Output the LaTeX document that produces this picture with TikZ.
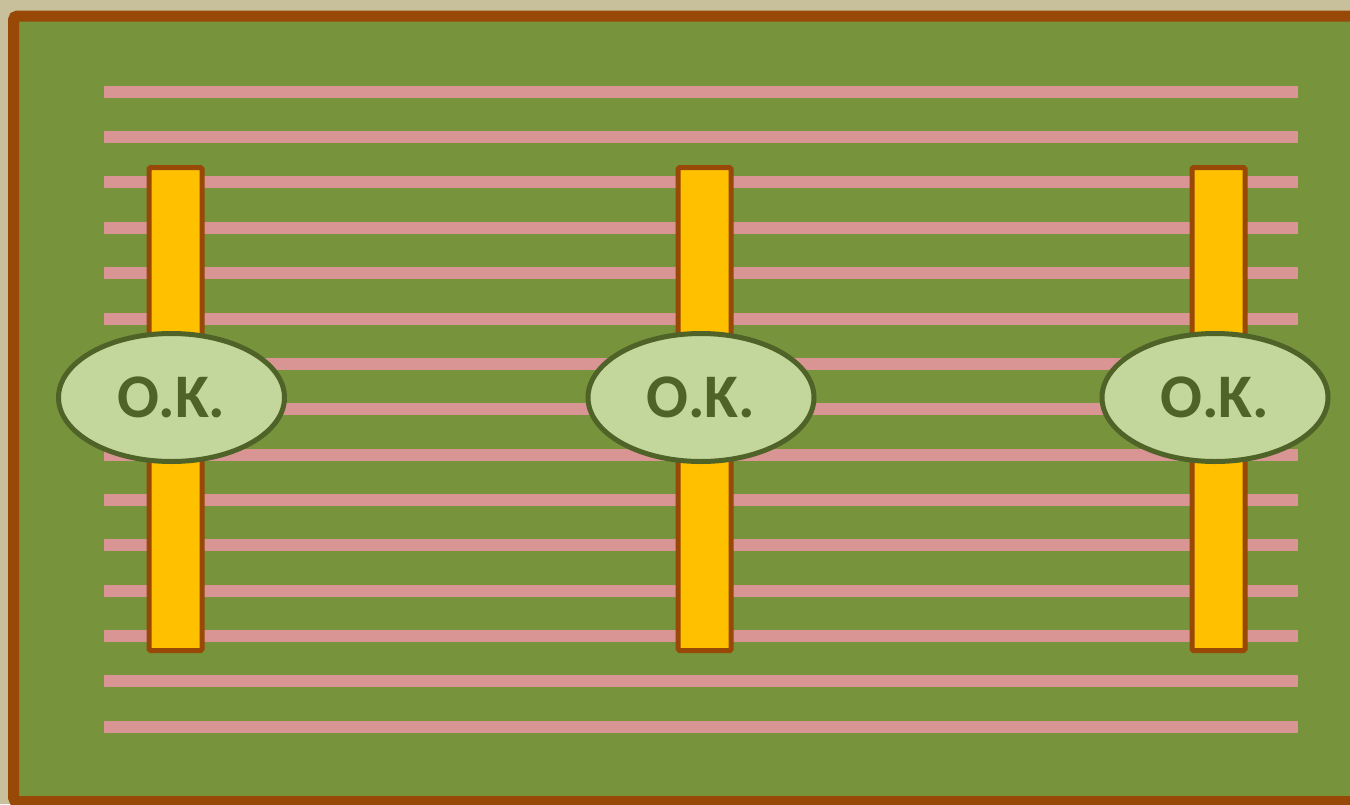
\documentclass[tikz,border=0pt]{standalone}
\usepackage{fontspec}
\setsansfont{Carlito}
\usepackage{xcolor}
\definecolor{tanback}{RGB}{200,191,155}
\definecolor{fieldgreen}{HTML}{77933C}
\definecolor{framebrown}{HTML}{984807}
\definecolor{railpink}{HTML}{D99594}
\definecolor{baryellow}{HTML}{FFC000}
\definecolor{okfill}{HTML}{C3D69B}
\definecolor{okdark}{HTML}{4F6228}
\usetikzlibrary{shapes.geometric}
\tikzset{
  fieldframe/.style={draw=framebrown, fill=fieldgreen, line width=11pt,
    rounded corners=4pt},
  railline/.style={draw=railpink, line width=12pt},
  barrect/.style={draw=framebrown, fill=baryellow, line width=5pt,
    rounded corners=1.5pt},
  okbadge/.style={ellipse, draw=okdark, fill=okfill, line width=5pt,
    minimum width=226pt, minimum height=128pt, inner sep=0pt,
    font=\sffamily\bfseries\fontsize{62}{62}\selectfont, text=okdark},
}

\begin{document}
\begin{tikzpicture}[x=1pt, y=-1pt]
  % page and background
  \useasboundingbox (0,0) rectangle (1350,804);
  \clip (0,0) rectangle (1350,804);
  \fill[tanback] (0,0) rectangle (1350,804);

  % green field with brown frame
  \draw[fieldframe] (13.5,16) rectangle (1365,801.5);

  % pink rails
  \foreach \i in {0,...,14}
    \draw[railline] (104,91.7+45.36*\i) -- (1298,91.7+45.36*\i);

  % yellow bars
  \foreach \bx/\bname in {175.5/barleft, 704.7/barmid, 1218.5/barright}
    \draw[barrect] (\bx-26.5,167.5) rectangle (\bx+26.5,650.5);

  % badges
  \node[okbadge] (okleft)  at (171.5,397.5) {O.K.};
  \node[okbadge] (okmid)   at (701,397.5)   {O.K.};
  \node[okbadge] (okright) at (1215,397.5)  {O.K.};
\end{tikzpicture}
\end{document}
